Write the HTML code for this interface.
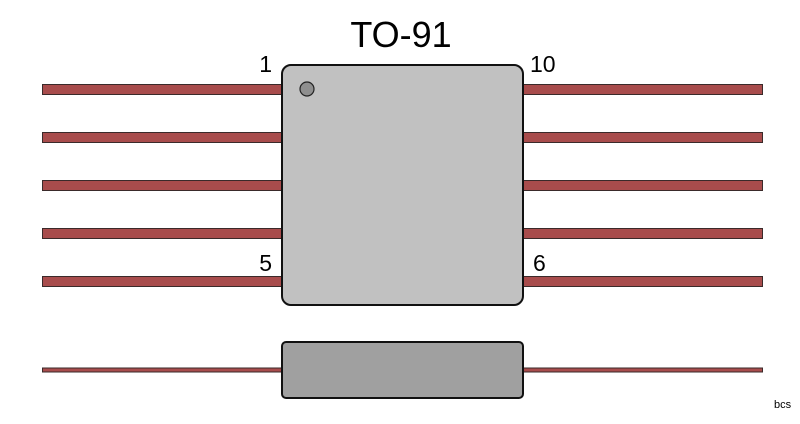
<!DOCTYPE html>
<html><head><style>body{margin:0;background:#fff}</style></head><body>
<svg width="800" height="419" xmlns="http://www.w3.org/2000/svg" font-family="Liberation Sans, sans-serif">
<rect width="800" height="419" fill="#fff"/>
<g fill="#a84c4c" stroke="#3a2a2a" stroke-width="1">
<rect x="42.5" y="84.5" width="720" height="10"/>
<rect x="42.5" y="132.5" width="720" height="10"/>
<rect x="42.5" y="180.5" width="720" height="10"/>
<rect x="42.5" y="228.5" width="720" height="10"/>
<rect x="42.5" y="276.5" width="720" height="10"/>
<rect x="42.5" y="368" width="720" height="4"/>
</g>
<rect x="282" y="65" width="241" height="240" rx="9" fill="#c1c1c1" stroke="#111" stroke-width="2"/>
<circle cx="307" cy="89" r="7" fill="#8f8f8f" stroke="#222" stroke-width="1.2"/>
<rect x="282" y="342" width="241" height="56" rx="4" fill="#a0a0a0" stroke="#111" stroke-width="2"/>
<text x="401" y="47" font-size="36" text-anchor="middle">TO-91</text>
<text x="272" y="72" font-size="23" text-anchor="end">1</text>
<text x="530" y="72" font-size="23">10</text>
<text x="272" y="271" font-size="23" text-anchor="end">5</text>
<text x="533" y="271" font-size="23">6</text>
<text x="774" y="408" font-size="11">bcs</text>
</svg>
</body></html>
